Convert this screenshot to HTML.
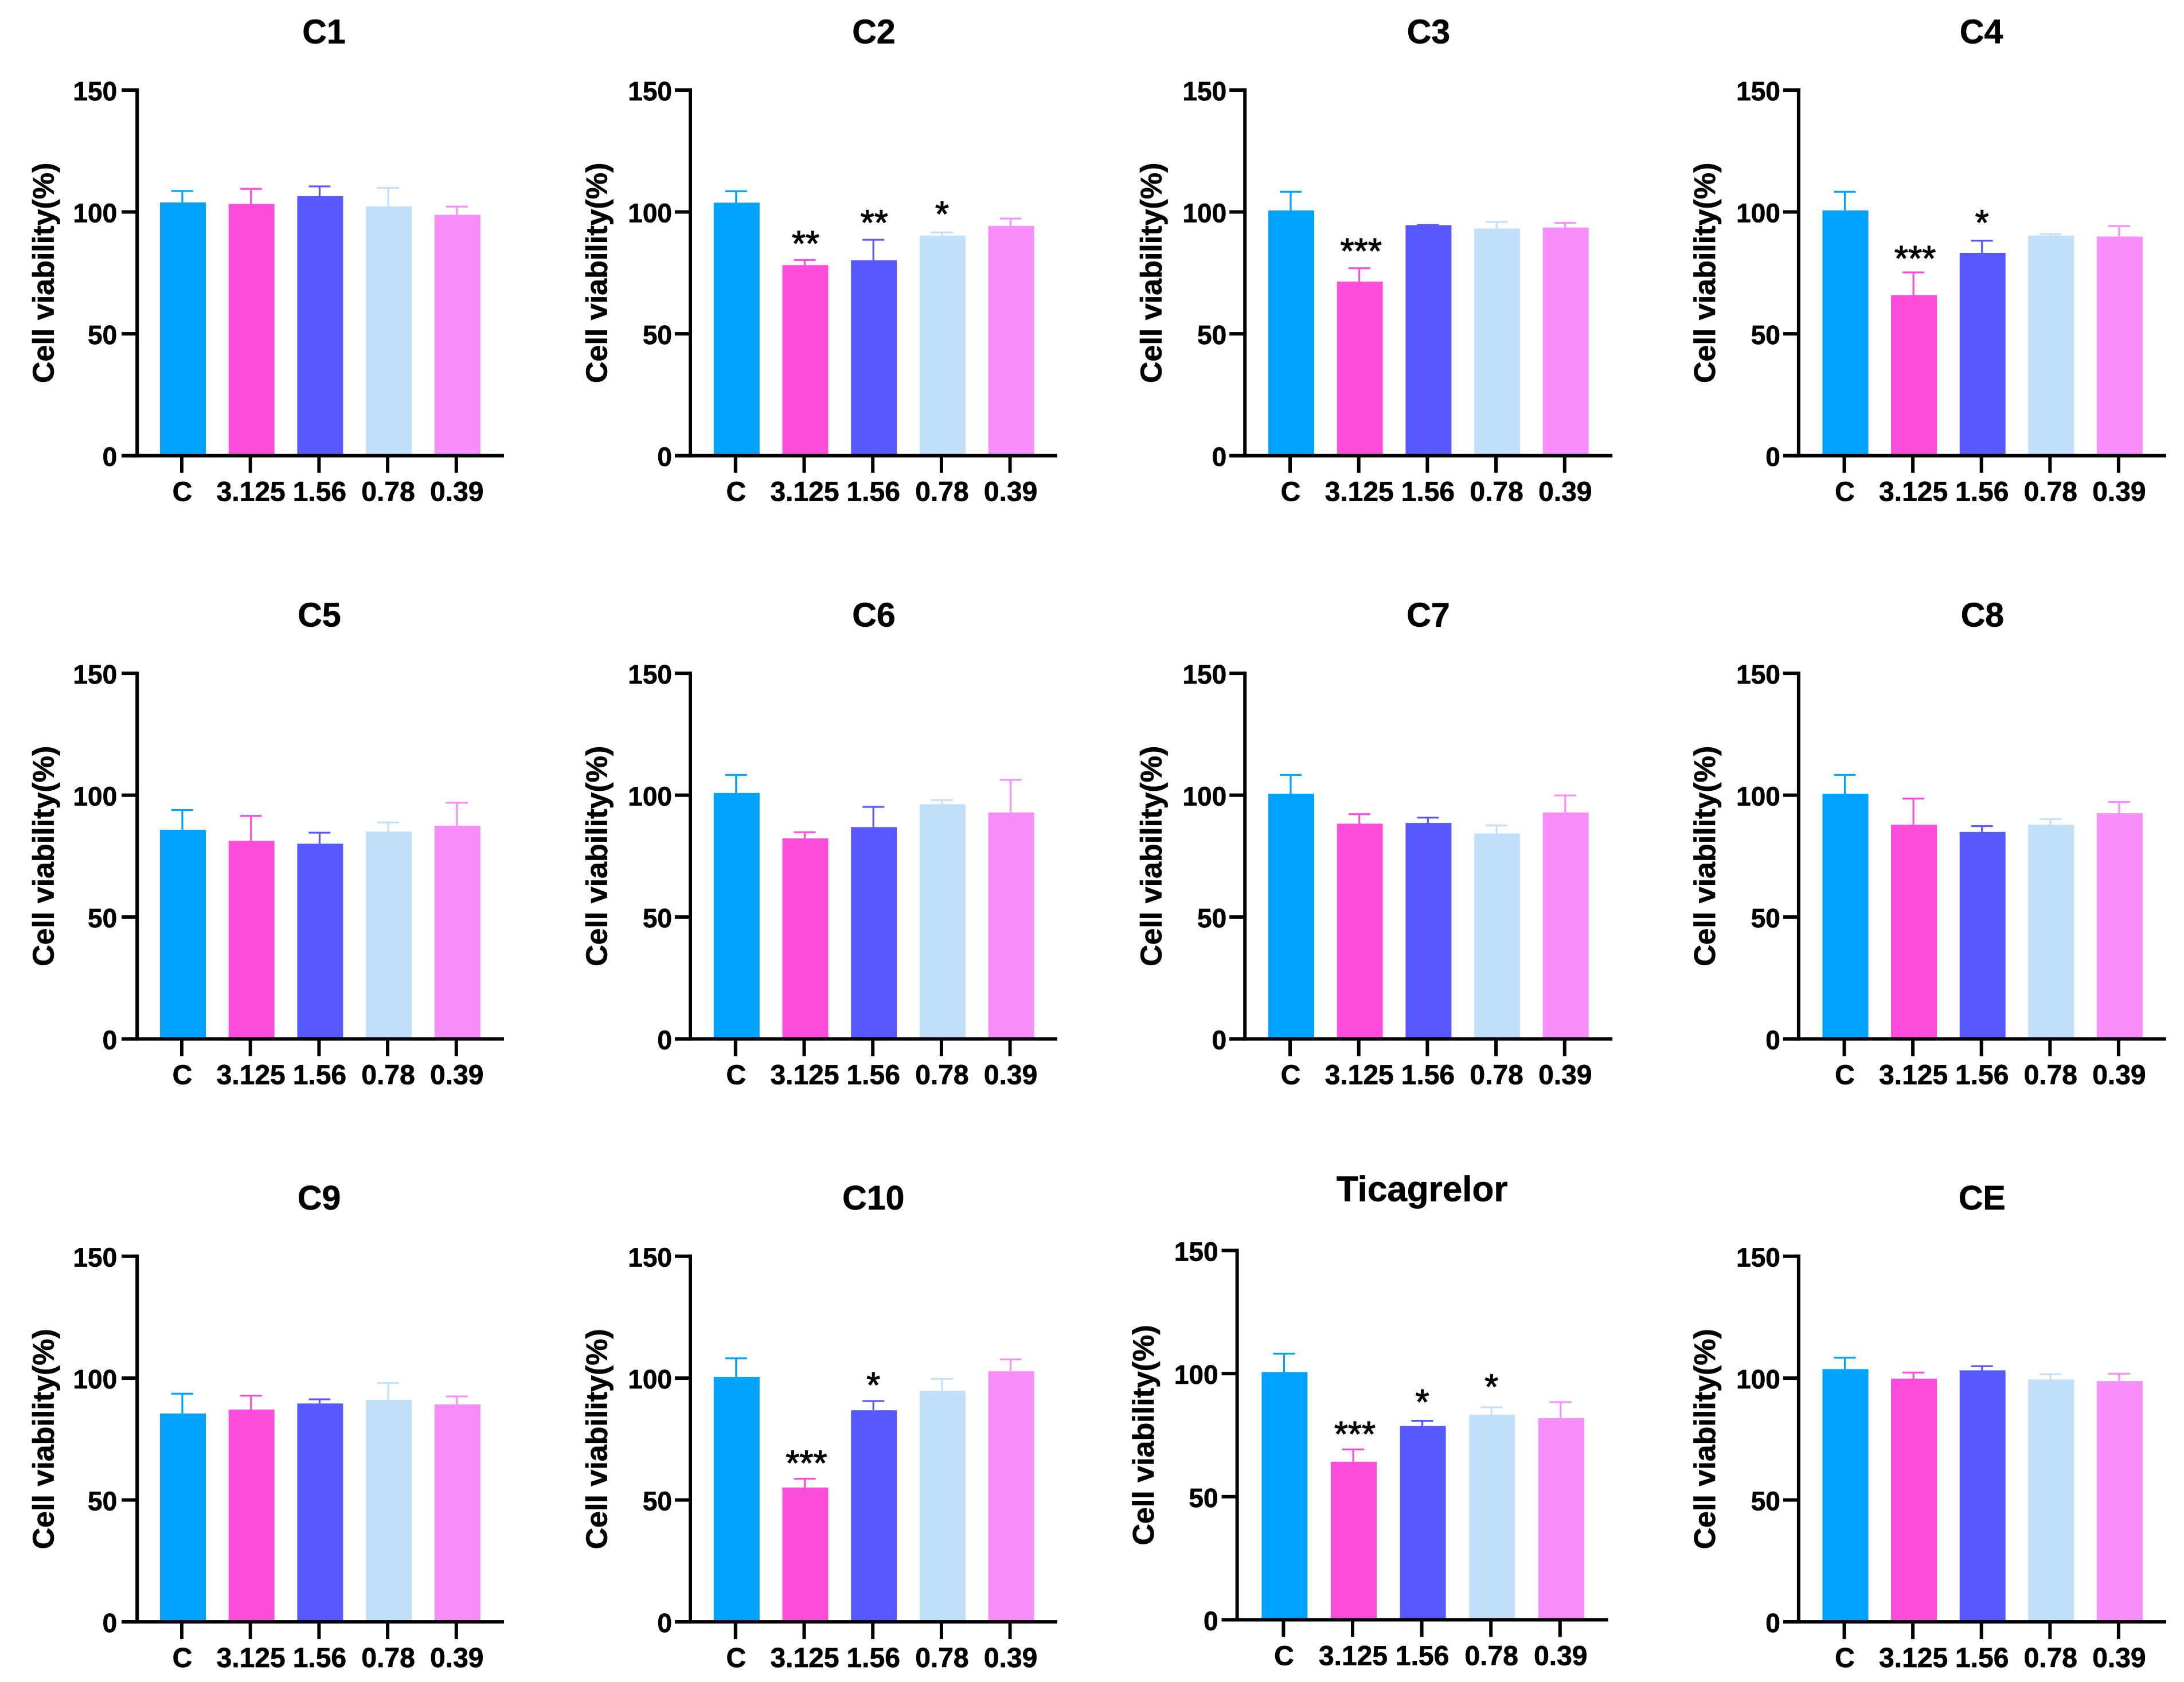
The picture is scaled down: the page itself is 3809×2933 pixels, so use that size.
<!DOCTYPE html>
<html lang="en">
<head>
<meta charset="utf-8">
<title>Cell viability panels</title>
<style>
  html, body { margin: 0; padding: 0; background: #ffffff; }
  svg { display: block; }
  text { font-family: "Liberation Sans", Arial, sans-serif; font-weight: 700; fill: #000; stroke: #000; stroke-width: 0.7px; }
  .sig { font-weight: 400; stroke-width: 1.2px; }
</style>
</head>
<body>
<svg id="figure" xmlns="http://www.w3.org/2000/svg" width="3809" height="2933" viewBox="0 0 3809 2933">
  <rect x="0" y="0" width="3809" height="2933" fill="#ffffff"></rect>
</svg>
<script>
const panelNames = ["C1", "C2", "C3", "C4", "C5", "C6", "C7", "C8", "C9", "C10", "Ticagrelor", "CE"];
const categories = ["C", "3.125", "1.56", "0.78", "0.39"];
const yTicks = [0, 50, 100, 150];
const yMax = 150;

const meanValues = [
  [103.9, 103.3, 106.5, 102.3, 98.8],
  [103.8, 78.2, 80.2, 90.3, 94.3],
  [100.6, 71.4, 94.6, 93.2, 93.6],
  [100.6, 65.9, 83.2, 90.3, 89.9],
  [85.8, 81.3, 80.1, 85.1, 87.5],
  [100.9, 82.3, 86.9, 96.3, 92.9],
  [100.6, 88.3, 88.6, 84.3, 92.9],
  [100.6, 87.9, 84.9, 87.9, 92.6],
  [85.5, 87.1, 89.6, 91.1, 89.2],
  [100.5, 55.1, 86.8, 94.8, 102.8],
  [100.6, 64.2, 78.7, 83.3, 81.9],
  [103.7, 99.8, 103.2, 99.5, 98.8]
];

const errorTops = [
  [108.6, 109.5, 110.5, 109.9, 102.2],
  [108.5, 80.3, 88.6, 91.6, 97.3],
  [108.3, 76.9, 94.6, 95.9, 95.5],
  [108.3, 75.2, 88.2, 90.9, 94.2],
  [93.9, 91.5, 84.6, 88.8, 96.9],
  [108.3, 84.8, 95.2, 98.0, 106.3],
  [108.3, 92.2, 90.8, 87.6, 99.9],
  [108.3, 98.6, 87.3, 90.2, 97.2],
  [93.6, 92.8, 91.3, 98.0, 92.5],
  [108.1, 58.7, 90.6, 99.7, 107.7],
  [108.1, 69.2, 80.8, 86.3, 88.4],
  [108.4, 102.3, 104.9, 101.6, 101.8]
];

const sigLabels = [
  ["", "", "", "", ""],
  ["", "**", "**", "*", ""],
  ["", "***", "", "", ""],
  ["", "***", "*", "", ""],
  ["", "", "", "", ""],
  ["", "", "", "", ""],
  ["", "", "", "", ""],
  ["", "", "", "", ""],
  ["", "", "", "", ""],
  ["", "***", "*", "", ""],
  ["", "***", "*", "*", ""],
  ["", "", "", "", ""]
];

/* height of each significance mark above its error cap, in axis units */
const sigLift = [
  [0, 0, 0, 0, 0],
  [0, 8.3, 8.6, 9.1, 0],
  [0, 8.6, 0, 0, 0],
  [0, 7.3, 9.0, 0, 0],
  [0, 0, 0, 0, 0],
  [0, 0, 0, 0, 0],
  [0, 0, 0, 0, 0],
  [0, 0, 0, 0, 0],
  [0, 0, 0, 0, 0],
  [0, 8.0, 8.1, 0, 0],
  [0, 7.8, 9.2, 9.9, 0],
  [0, 0, 0, 0, 0]
];

const barColors = ["#00A2FF", "#FF4DDB", "#5858FF", "#C2DFFC", "#F88DFC"];

/* panel frames: left axis x, x-axis end, first tick x, tick spacing, plot top, plot bottom, title x, title baseline, tick label gap */
const frames = [
  {ax: 239.2, xe: 879, t0: 317, dt: 119.7, top: 157.1, bot: 794.6, tx: 565, ty: 75.5, gap: 35},
  {ax: 1204, xe: 1843.8, t0: 1282.8, dt: 119.7, top: 157.1, bot: 794.6, tx: 1524, ty: 75.5, gap: 32},
  {ax: 2171.2, xe: 2812.2, t0: 2250, dt: 119.7, top: 157.1, bot: 794.6, tx: 2491.4, ty: 75.5, gap: 32},
  {ax: 3136.9, xe: 3777.9, t0: 3216.5, dt: 119.6, top: 157.1, bot: 794.6, tx: 3455.6, ty: 75.5, gap: 32},
  {ax: 239.2, xe: 879, t0: 317, dt: 119.7, top: 1174.1, bot: 1811.6, tx: 557, ty: 1092.3, gap: 35},
  {ax: 1204, xe: 1843.8, t0: 1282.8, dt: 119.7, top: 1174.1, bot: 1811.6, tx: 1524, ty: 1092.3, gap: 32},
  {ax: 2171.2, xe: 2812.2, t0: 2250, dt: 119.7, top: 1174.1, bot: 1811.6, tx: 2491, ty: 1092.3, gap: 32},
  {ax: 3136.9, xe: 3777.9, t0: 3216.5, dt: 119.6, top: 1174.1, bot: 1811.6, tx: 3457.4, ty: 1092.3, gap: 32},
  {ax: 239.2, xe: 879, t0: 317, dt: 119.7, top: 2190.6, bot: 2828.1, tx: 556.6, ty: 2109, gap: 35},
  {ax: 1204, xe: 1843.8, t0: 1282.8, dt: 119.7, top: 2190.6, bot: 2828.1, tx: 1523.3, ty: 2109, gap: 32},
  {ax: 2157.6, xe: 2804.6, t0: 2238.4, dt: 120.6, top: 2180.5, bot: 2824.5, tx: 2480.2, ty: 2094.3, gap: 33, titleSize: 62},
  {ax: 3136.9, xe: 3777.9, t0: 3216.5, dt: 119.6, top: 2190.6, bot: 2828.1, tx: 3456.8, ty: 2109, gap: 32}
];

const SVG_NS = "http://www.w3.org/2000/svg";
const figure = document.getElementById("figure");
const AXIS_W = 6, TICK_LEN = 27, BAR_W = 80, CAP_W = 38, ERR_W = 3.2;

function makeRect(parent, x, y, w, h, fill) {
  const r = document.createElementNS(SVG_NS, "rect");
  r.setAttribute("x", x.toFixed(2));
  r.setAttribute("y", y.toFixed(2));
  r.setAttribute("width", w.toFixed(2));
  r.setAttribute("height", Math.max(h, 0).toFixed(2));
  r.setAttribute("fill", fill);
  parent.appendChild(r);
  return r;
}

function makeText(parent, content, x, y, size, anchor) {
  const t = document.createElementNS(SVG_NS, "text");
  t.setAttribute("x", x.toFixed(2));
  t.setAttribute("y", y.toFixed(2));
  t.setAttribute("font-size", size);
  t.setAttribute("text-anchor", anchor);
  t.textContent = content;
  parent.appendChild(t);
  return t;
}

panelNames.forEach(function (panelName, p) {
  const f = frames[p];
  const slug = panelName.toLowerCase();
  const yOf = function (v) { return f.bot - (v / yMax) * (f.bot - f.top); };
  const xOf = function (i) { return f.t0 + i * f.dt; };

  const g = document.createElementNS(SVG_NS, "g");
  
  
  figure.appendChild(g);

  const title = makeText(g, panelName, f.tx, f.ty, f.titleSize || 59, "middle");
  
  

  const midY = (f.top + f.bot) / 2;
  const yTitle = makeText(g, "Cell viability(%)", 0, 0, 52, "middle");
  yTitle.setAttribute("transform", "translate(" + (f.ax - 145.7) + " " + midY + ") rotate(-90)");
  
  

  categories.forEach(function (cat, i) {
    const cx = xOf(i);
    const top = yOf(meanValues[p][i]);
    const errY = yOf(errorTops[p][i]);
    const color = barColors[i];

    const errLine = makeRect(g, cx + 1 - ERR_W / 2, errY, ERR_W, top - errY, color);
    
    

    const errCap = makeRect(g, cx + 1 - CAP_W / 2, errY - ERR_W / 2, CAP_W, ERR_W, color);
    
    

    const bar = makeRect(g, cx + 2 - BAR_W / 2, top, BAR_W, yOf(0) - top, color);
    
    

    const tick = makeRect(g, cx - AXIS_W / 2, yOf(0), AXIS_W, TICK_LEN + AXIS_W / 2, "#000");
    
    

    const label = makeText(g, cat, cx + 1, yOf(0) + 79, 48, "middle");
    
    

    const sig = sigLabels[p][i];
    if (sig) {
      const sigCenter = yOf(errorTops[p][i] + sigLift[p][i]);
      const mark = makeText(g, sig, cx + 1 + (sig.length - 1) * 1.5, sigCenter + 28, 62, "middle");
      mark.setAttribute("class", "sig");
      
      
    }
  });

  const yAxis = makeRect(g, f.ax - AXIS_W / 2, yOf(yMax) - AXIS_W / 2, AXIS_W, yOf(0) - yOf(yMax) + AXIS_W, "#000");
  
  

  const xAxis = makeRect(g, f.ax - TICK_LEN, yOf(0) - AXIS_W / 2, f.xe - f.ax + TICK_LEN, AXIS_W, "#000");
  
  

  yTicks.forEach(function (v) {
    const tick = makeRect(g, f.ax - TICK_LEN, yOf(v) - AXIS_W / 2, TICK_LEN, AXIS_W, "#000");
    
    

    const label = makeText(g, String(v), f.ax - f.gap, yOf(v) + 18, 46, "end");
    
    
  });
});
</script>
</body>
</html>
